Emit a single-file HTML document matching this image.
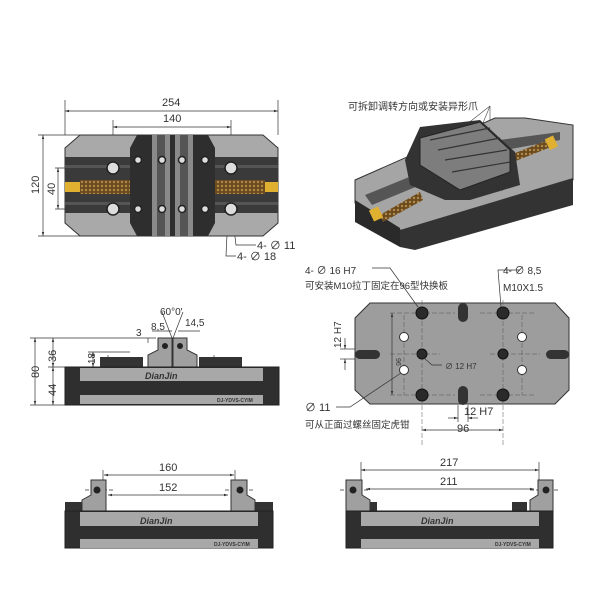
<!DOCTYPE html>
<html><head><meta charset="utf-8"><style>
html,body{margin:0;padding:0;background:#fff;width:609px;height:600px;overflow:hidden}
svg text{font-family:"Liberation Sans","Noto Sans CJK SC",sans-serif;fill:#333}
</style></head><body>
<svg width="609" height="600" viewBox="0 0 609 600" xmlns="http://www.w3.org/2000/svg">
<defs>
<marker id="a" viewBox="0 0 10 10" refX="10" refY="5" markerWidth="6" markerHeight="6" orient="auto-start-reverse"><path d="M0,2 L10,5 L0,8z" fill="#333"/></marker>
<pattern id="k" width="4" height="4" patternUnits="userSpaceOnUse"><rect width="4" height="4" fill="#6b4a1e"/><circle cx="2" cy="2" r="1.2" fill="#b08a4a"/></pattern>
</defs>
<g stroke="#333" stroke-width="0.7" fill="none">
<line x1="65" y1="100" x2="65" y2="135"/><line x1="278" y1="100" x2="278" y2="135"/>
<line x1="65" y1="111" x2="278" y2="111" marker-start="url(#a)" marker-end="url(#a)"/>
<line x1="113" y1="120" x2="113" y2="170"/><line x1="231" y1="120" x2="231" y2="170"/>
<line x1="113" y1="127" x2="231" y2="127" marker-start="url(#a)" marker-end="url(#a)"/>
<line x1="38" y1="135" x2="80" y2="135"/><line x1="38" y1="236" x2="80" y2="236"/>
<line x1="43" y1="135" x2="43" y2="236" marker-start="url(#a)" marker-end="url(#a)"/>
<line x1="55" y1="168" x2="110" y2="168"/><line x1="55" y1="209" x2="110" y2="209"/>
<line x1="58" y1="168" x2="58" y2="209" marker-start="url(#a)" marker-end="url(#a)"/>
<polyline points="256,245 236,245 232,212"/><polyline points="236,256 226,256 228,213"/>
</g>
<text x="162" y="106" font-size="11">254</text>
<text x="163" y="122" font-size="11">140</text>
<text transform="translate(39,194) rotate(-90)" font-size="11">120</text>
<text transform="translate(55,195) rotate(-90)" font-size="11">40</text>
<text x="257" y="249" font-size="11">4-  ∅  11</text>
<text x="237" y="260" font-size="11">4-  ∅  18</text>
<path d="M80,135 H263 L278,148 V223 L263,236 H80 L65,223 V148Z" fill="#a9a9a9" stroke="#333"/>
<rect x="65" y="157" width="213" height="56" fill="#3a3a3a"/>
<rect x="65" y="165" width="213" height="3" fill="#555"/><rect x="65" y="202" width="213" height="3" fill="#555"/>
<rect x="80" y="180" width="50" height="14" fill="url(#k)"/><rect x="215" y="180" width="50" height="14" fill="url(#k)"/>
<rect x="65" y="182" width="15" height="10" fill="#e0b030"/><rect x="265" y="182" width="13" height="10" fill="#e0b030"/>
<path d="M137,135 H208 L215,148 V223 L208,236 H137 L130,223 V148Z" fill="#2e2e2e"/>
<rect x="152" y="135" width="18" height="101" fill="#8a8a8a"/><rect x="175" y="135" width="18" height="101" fill="#8a8a8a"/>
<rect x="157" y="135" width="8" height="101" fill="#555"/><rect x="180" y="135" width="8" height="101" fill="#555"/>
<g fill="#ddd" stroke="#222" stroke-width="1.5">
<circle cx="113" cy="168" r="6"/><circle cx="113" cy="209" r="6"/><circle cx="231" cy="168" r="6"/><circle cx="231" cy="209" r="6"/>
<circle cx="138" cy="160" r="3.5"/><circle cx="162" cy="160" r="3.5"/><circle cx="182" cy="160" r="3.5"/><circle cx="205" cy="160" r="3.5"/>
<circle cx="138" cy="209" r="3.5"/><circle cx="162" cy="209" r="3.5"/><circle cx="182" cy="209" r="3.5"/><circle cx="205" cy="209" r="3.5"/>
</g>
<!-- ISO VIEW -->
<text x="348" y="110" font-size="10">可拆卸调转方向或安装异形爪</text>
<g stroke="#444" stroke-width="0.6"><line x1="490" y1="106" x2="462" y2="128"/><line x1="490" y1="106" x2="478" y2="135"/><line x1="490" y1="106" x2="490" y2="140"/></g>
<path d="M355,180 L495,118 L525,118 L573,125 L573,180 L420,232 L400,230 L355,203Z" fill="#a5a5a5" stroke="#333"/>
<path d="M400,230 L573,178 L573,205 L415,250 L400,247Z" fill="#333"/>
<path d="M355,200 L400,228 L400,247 L355,222Z" fill="#2a2a2a"/>
<path d="M365,195 L500,140 L560,132 L560,140 L505,150 L372,205Z" fill="#555"/>
<path d="M380,215 L420,192 L423,200 L383,222Z" fill="url(#k)"/>
<path d="M505,157 L548,140 L551,147 L508,164Z" fill="url(#k)"/>
<rect x="371" y="208" width="10" height="12" fill="#e0b030" transform="rotate(-25 376 214)"/><rect x="547" y="137" width="9" height="12" fill="#e0b030" transform="rotate(-25 551 143)"/>
<path d="M405,160 L420,127 L480,120 L515,152 L520,185 L470,200 L445,200 L410,185Z" fill="#333"/>
<path d="M420,138 L480,122 L510,150 L510,172 L460,190 L420,165Z" fill="#7d7d7d" stroke="#222"/>
<g stroke="#333" stroke-width="1.2"><line x1="430" y1="140" x2="490" y2="128"/><line x1="438" y1="150" x2="500" y2="138"/><line x1="445" y1="160" x2="507" y2="150"/><line x1="452" y1="172" x2="510" y2="162"/></g>
<text x="472" y="197" font-size="9" font-weight="bold" font-style="italic" transform="rotate(-12 472 197)" fill="#111">DianJin</text>
<!-- FRONT VIEW -->
<g stroke="#333" stroke-width="0.7" fill="none">
<line x1="30" y1="338" x2="156" y2="338"/><line x1="30" y1="405" x2="65" y2="405"/>
<line x1="35" y1="338" x2="35" y2="405" marker-start="url(#a)" marker-end="url(#a)"/>
<line x1="48" y1="367" x2="65" y2="367"/>
<line x1="53" y1="338" x2="53" y2="367" marker-start="url(#a)" marker-end="url(#a)"/>
<line x1="53" y1="367" x2="53" y2="405" marker-start="url(#a)" marker-end="url(#a)"/>
<line x1="88" y1="352" x2="130" y2="352"/>
<line x1="93" y1="352" x2="93" y2="367" marker-start="url(#a)" marker-end="url(#a)"/>
<line x1="148" y1="338" x2="148" y2="343"/>
<line x1="152" y1="331" x2="172" y2="331"/><line x1="178" y1="331" x2="200" y2="331"/>
<line x1="162" y1="312" x2="172" y2="338"/><line x1="183" y1="312" x2="173" y2="338"/>
<line x1="108" y1="355" x2="108" y2="395" stroke-dasharray="4,2"/><line x1="214" y1="355" x2="214" y2="395" stroke-dasharray="4,2"/>
</g>
<text x="160" y="315" font-size="10">60°0'</text>
<text x="151" y="330" font-size="10">8,5</text>
<text x="185" y="326" font-size="10">14,5</text>
<text x="136" y="336" font-size="10">3</text>
<text transform="translate(39,378) rotate(-90)" font-size="11">80</text>
<text transform="translate(56,362) rotate(-90)" font-size="11">36</text>
<text transform="translate(56,396) rotate(-90)" font-size="11">44</text>
<text transform="translate(95,364) rotate(-90)" font-size="10">18</text>
<g>
<rect x="100" y="357" width="43" height="10" fill="#333"/><rect x="199" y="357" width="43" height="10" fill="#333"/>
<path d="M158,338 H172 V367 H148 V355 L158,350Z" fill="#a0a0a0" stroke="#333"/>
<path d="M173,338 H187 V350 L197,355 V367 H173Z" fill="#a0a0a0" stroke="#333"/>
<circle cx="165" cy="346" r="3" fill="#222"/><circle cx="180" cy="346" r="3" fill="#222"/>
<rect x="65" y="367" width="214" height="38" fill="#2f2f2f" stroke="#222"/>
<rect x="80" y="368" width="183" height="13" fill="#a8a8a8"/>
<rect x="80" y="395" width="183" height="9" fill="#a8a8a8"/>
<text x="145" y="379" font-size="9" font-weight="bold" font-style="italic" fill="#111">DianJin</text>
<text x="217" y="402" font-size="5" font-weight="bold" fill="#222">DJ-YDVS-CYIM</text>
</g>
<!-- BOTTOM PLATE VIEW -->
<text x="305" y="274" font-size="10">4-  ∅  16  H7</text>
<text x="305" y="289" font-size="9.5">可安装M10拉丁固定在96型快换板</text>
<text x="503" y="274" font-size="10">4-  ∅  8,5</text>
<text x="503" y="291" font-size="10">M10X1.5</text>
<path d="M370,303 H555 L569,318 V390 L555,404 H370 L355,390 V318Z" fill="#9d9d9d" stroke="#333"/>
<g stroke="#555" stroke-width="0.5" fill="none" stroke-dasharray="5,2">
<line x1="390" y1="313" x2="455" y2="313"/><line x1="390" y1="395" x2="455" y2="395"/><line x1="480" y1="313" x2="535" y2="313"/><line x1="480" y1="395" x2="535" y2="395"/>
<line x1="422" y1="300" x2="422" y2="445"/><line x1="503" y1="300" x2="503" y2="445"/>
<line x1="404" y1="315" x2="404" y2="395"/><line x1="522" y1="315" x2="522" y2="395"/>
<line x1="390" y1="354" x2="440" y2="354"/><line x1="490" y1="354" x2="540" y2="354"/>
</g>
<g fill="#333">
<rect x="458" y="303" width="10" height="19" rx="5"/><rect x="458" y="386" width="10" height="19" rx="5"/>
<rect x="355" y="350" width="25" height="9" rx="4.5"/><rect x="546" y="350" width="23" height="9" rx="4.5"/>
</g>
<g fill="#2a2a2a" stroke="#111"><circle cx="422" cy="313" r="6"/><circle cx="422" cy="395" r="6"/><circle cx="503" cy="313" r="6"/><circle cx="503" cy="395" r="6"/><circle cx="422" cy="354" r="5"/><circle cx="503" cy="354" r="5"/></g>
<g fill="#fff" stroke="#333"><circle cx="404" cy="337" r="4.5"/><circle cx="404" cy="370" r="4.5"/><circle cx="522" cy="337" r="4.5"/><circle cx="522" cy="370" r="4.5"/></g>
<g stroke="#333" stroke-width="0.7" fill="none">
<polyline points="372,268 390,268 418,307"/><polyline points="520,270 498,270 501,307"/>
<polyline points="442,365 432,365 424,358"/><polyline points="336,407 350,407 401,373"/>
<line x1="392" y1="313" x2="392" y2="395" marker-start="url(#a)" marker-end="url(#a)"/>
<line x1="422" y1="430" x2="503" y2="430" marker-start="url(#a)" marker-end="url(#a)"/>
<line x1="448" y1="418" x2="458" y2="418" marker-end="url(#a)"/><line x1="478" y1="418" x2="468" y2="418" marker-end="url(#a)"/>
<line x1="458" y1="405" x2="458" y2="422"/><line x1="468" y1="405" x2="468" y2="422"/>
<line x1="340" y1="349" x2="355" y2="349"/><line x1="340" y1="359" x2="355" y2="359"/>
<line x1="345" y1="338" x2="345" y2="349" marker-end="url(#a)"/><line x1="345" y1="370" x2="345" y2="359" marker-end="url(#a)"/>
</g>
<text transform="translate(396,358) rotate(90)" font-size="7">96</text>
<text x="445" y="369" font-size="8">∅  12  H7</text>
<text x="305" y="411" font-size="11">∅  11</text>
<text x="305" y="428" font-size="9.5">可从正面过螺丝固定虎钳</text>
<text x="464" y="415" font-size="11">12  H7</text>
<text x="457" y="432" font-size="11">96</text>
<text transform="translate(341,348) rotate(-90)" font-size="10">12  H7</text>
<!-- BOTTOM -->
<g stroke="#333" stroke-width="0.7" fill="none">
<line x1="104" y1="475" x2="234" y2="475" marker-start="url(#a)" marker-end="url(#a)"/>
<line x1="108" y1="495" x2="228" y2="495" marker-start="url(#a)" marker-end="url(#a)"/>
<line x1="103" y1="470" x2="103" y2="480"/><line x1="235" y1="470" x2="235" y2="480"/>
<line x1="361" y1="470" x2="539" y2="470" marker-start="url(#a)" marker-end="url(#a)"/>
<line x1="366" y1="489" x2="534" y2="489" marker-start="url(#a)" marker-end="url(#a)"/>
<line x1="361" y1="462" x2="361" y2="485"/><line x1="539" y1="462" x2="539" y2="485"/>
<line x1="85" y1="490" x2="115" y2="490" stroke-dasharray="4,2"/><line x1="225" y1="490" x2="255" y2="490" stroke-dasharray="4,2"/>
<line x1="340" y1="490" x2="370" y2="490" stroke-dasharray="4,2"/><line x1="530" y1="490" x2="560" y2="490" stroke-dasharray="4,2"/>
</g>
<text x="159" y="471" font-size="11">160</text>
<text x="159" y="491" font-size="11">152</text>
<text x="440" y="466" font-size="11">217</text>
<text x="440" y="485" font-size="11">211</text>
<g>
<rect x="65" y="502" width="17" height="10" fill="#333"/><rect x="255" y="502" width="18" height="10" fill="#333"/>
<path d="M91,480 H106 V511 H82 V500 L91,495Z" fill="#a0a0a0" stroke="#333"/>
<path d="M231,480 H247 V495 L255,500 V511 H231Z" fill="#a0a0a0" stroke="#333"/>
<circle cx="97" cy="490" r="3.5" fill="#222"/><circle cx="240" cy="490" r="3.5" fill="#222"/>
<rect x="65" y="511" width="208" height="37" fill="#2f2f2f" stroke="#222"/>
<rect x="80" y="512" width="178" height="14" fill="#a8a8a8"/><rect x="80" y="539" width="178" height="9" fill="#a8a8a8"/>
<text x="140" y="524" font-size="9" font-weight="bold" font-style="italic" fill="#111">DianJin</text>
<text x="214" y="546" font-size="5" font-weight="bold" fill="#222">DJ-YDVS-CYIM</text>
</g>
<g>
<rect x="362" y="502" width="15" height="10" fill="#333"/><rect x="512" y="502" width="15" height="10" fill="#333"/>
<path d="M346,480 H362 V495 L370,500 V511 H346Z" fill="#a0a0a0" stroke="#333"/>
<path d="M538,480 H553 V511 H530 V500 L538,495Z" fill="#a0a0a0" stroke="#333"/>
<circle cx="353" cy="490" r="3.5" fill="#222"/><circle cx="546" cy="490" r="3.5" fill="#222"/>
<rect x="346" y="511" width="207" height="37" fill="#2f2f2f" stroke="#222"/>
<rect x="361" y="512" width="178" height="14" fill="#a8a8a8"/><rect x="361" y="539" width="178" height="9" fill="#a8a8a8"/>
<text x="421" y="524" font-size="9" font-weight="bold" font-style="italic" fill="#111">DianJin</text>
<text x="495" y="546" font-size="5" font-weight="bold" fill="#222">DJ-YDVS-CYIM</text>
</g>
</svg>
</body></html>
